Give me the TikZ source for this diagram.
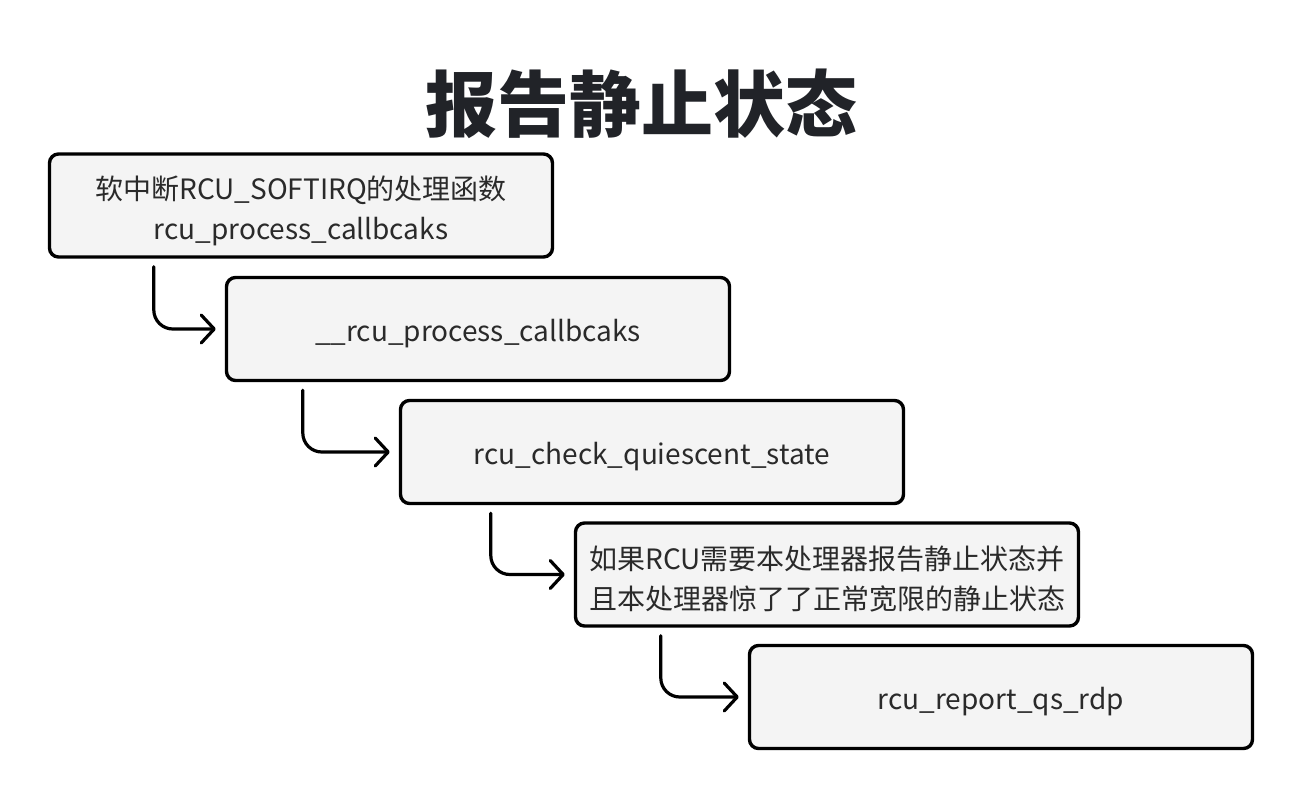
\documentclass[tikz,border=0pt]{standalone}
\usepackage{fontspec}
\setmainfont{Noto Sans CJK SC}
\usetikzlibrary{arrows.meta}
\definecolor{boxfill}{HTML}{F4F4F4}
\definecolor{titlecol}{HTML}{212328}
\definecolor{bodycol}{HTML}{2A2A2A}
\begin{document}
\begin{tikzpicture}[x=1pt,y=-1pt,
  box/.style={draw=black, line width=3.4pt, fill=boxfill, rounded corners=9pt,
    minimum width=503pt, minimum height=103pt, inner sep=0pt},
  boxtext/.style={align=center, inner sep=0pt,
    font=\fontsize{28}{40}\selectfont, text=bodycol},
  link/.style={draw=black, line width=3.2pt, rounded corners=19pt, line cap=round,
    -{Straight Barb[round,length=13pt,width=28pt]}}]
\useasboundingbox[fill=white] (0,0) rectangle (1304,800);
\node[font=\bfseries\fontsize{72}{80}\selectfont, text=titlecol, inner sep=0pt] (title) at (641,104) {报告静止状态};
\node[box] (b1) at (301,205.5) {};
\node[box] (b2) at (478,329) {};
\node[box] (b3) at (652,452) {};
\node[box] (b4) at (827,574.5) {};
\node[box] (b5) at (1001,697) {};
\node[boxtext] (t1) at ([yshift=-5pt]b1.center) {软中断RCU\_SOFTIRQ的处理函数\\rcu\_process\_callbcaks};
\node[boxtext] (t2) at ([yshift=-5pt]b2.center) {\_\_rcu\_process\_callbcaks};
\node[boxtext] (t3) at ([yshift=-5pt]b3.center) {rcu\_check\_quiescent\_state};
\node[boxtext] (t4) at ([yshift=-5pt]b4.center) {如果RCU需要本处理器报告静止状态并\\且本处理器惊了了正常宽限的静止状态};
\node[boxtext] (t5) at ([yshift=-5pt]b5.center) {rcu\_report\_qs\_rdp};
\draw[link] ([xshift=106pt,yshift=-8pt]b1.south west) |- ([xshift=-9pt]b2.west);
\draw[link] ([xshift=78pt,yshift=-8pt]b2.south west) |- ([xshift=-9pt]b3.west);
\draw[link] ([xshift=92pt,yshift=-8pt]b3.south west) |- ([xshift=-9pt]b4.west);
\draw[link] ([xshift=87pt,yshift=-8pt]b4.south west) |- ([xshift=-9pt]b5.west);
\end{tikzpicture}
\end{document}
